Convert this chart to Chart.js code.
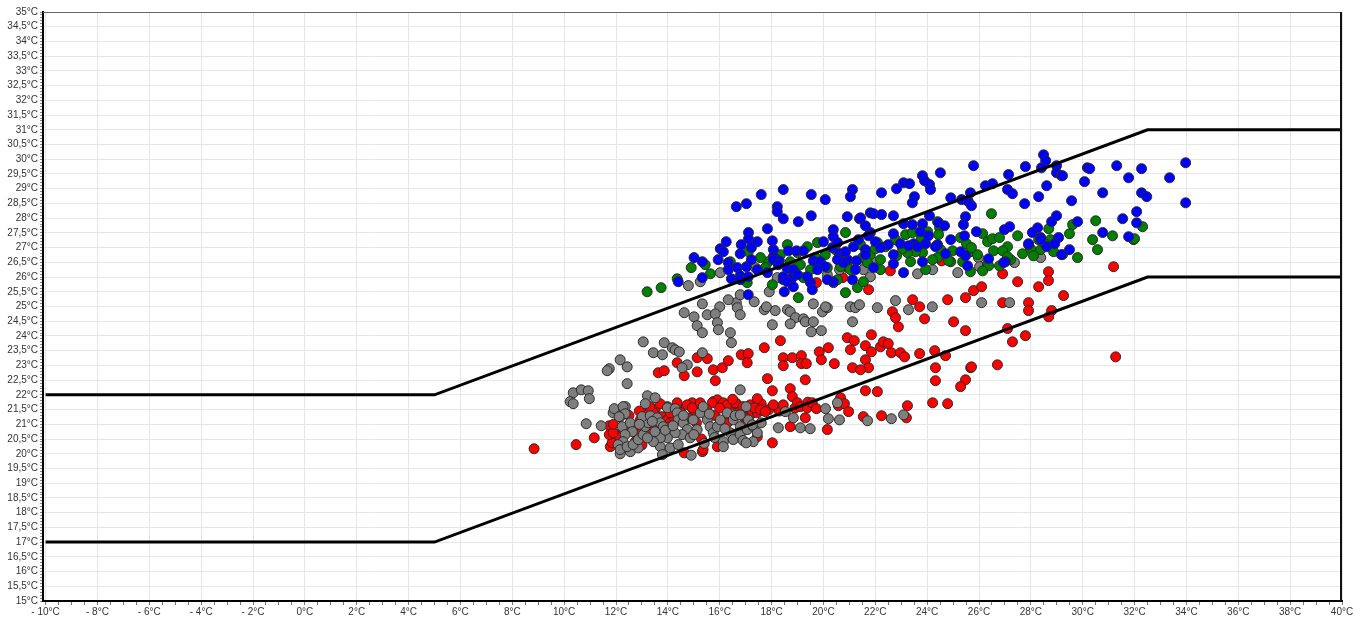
<!DOCTYPE html>
<html>
<head>
<meta charset="utf-8">
<script src="https://cdn.jsdelivr.net/npm/chart.js@4/dist/chart.umd.min.js"></script>
<style>
  body { margin: 0; background: #fff; }
  canvas { display: block; }
</style>
</head>
<body>
<canvas id="chart" width="1367" height="620"></canvas>
<script>
// comfort band limits (outdoor temp -> indoor temp)
const bandX = [-10, 5, 32.5, 40];
const upperY = [22, 22, 31, 31];
const lowerY = [17, 17, 26, 26];

// measured points [outdoor °C, indoor °C]
const redPoints = [
  [8.84,20.17],[10.46,20.31],[11.16,20.54],[11.74,20.95],[11.78,20.24],[11.85,20.37],[11.74,20.65],[12.05,20.65],
  [14.36,23.09],[15.13,23.26],[15.52,23.23],[13.63,22.75],[13.86,22.82],[14.63,22.65],[15.13,22.78],[15.75,22.85],
  [16.10,22.92],[16.33,23.16],[15.83,22.48],[16.83,23.36],[17.10,23.40],[17.06,23.09],
  [13.51,21.49],[13.98,21.60],[14.36,21.56],[14.94,21.73],[14.98,21.49],[15.75,21.77],[15.91,21.83],[16.14,21.73],
  [16.41,21.63],[16.64,21.70],[16.79,21.39],[17.18,21.32],[14.63,20.03],[15.33,20.07],[12.82,20.58],[12.74,20.41],
  [11.89,20.71],[12.94,21.15],[13.21,21.43],[13.44,21.39],[13.79,21.26],[13.98,21.15],[14.09,21.05],[14.21,21.26],
  [14.36,21.73],[14.75,21.66],[14.94,21.56],[15.25,21.73],[15.71,21.73],[16.29,21.66],[16.60,21.73],[16.72,21.39],
  [16.91,21.26],[17.26,21.43],[17.45,21.39],[17.18,21.66],[14.09,21.39],[13.44,20.98],[13.21,20.82],[12.74,20.92],
  [12.94,20.71],[15.36,20.14],[15.91,20.24],
  [12.50,21.30],[12.90,21.45],[13.30,21.60],[13.70,21.70],[14.50,21.40],[14.80,21.20],[15.10,21.05],[15.50,21.50],
  [15.80,21.30],[16.00,21.55],[16.50,21.85],[16.90,21.60],[17.60,21.70],[17.90,21.50],[18.30,21.45],[18.90,21.55],
  [19.40,21.75],[12.30,20.80],[11.90,21.00],[13.00,20.30],[14.00,20.90],[15.30,20.50],[16.30,21.05],[17.00,21.00],
  [18.34,23.84],[17.72,23.60],[18.45,23.26],[18.80,23.26],[19.15,23.33],[19.15,23.06],[19.34,23.06],[18.45,22.99],
  [19.84,23.46],[20.19,23.60],[19.92,23.19],[20.42,23.06],[19.30,22.51],[17.84,22.55],[18.03,22.14],[18.72,22.21],
  [18.80,21.94],[17.45,21.87],[20.92,23.94],[21.19,23.84],[21.85,24.04],[21.04,23.53],[21.62,23.67],[21.85,23.46],
  [21.62,23.19],[21.74,22.92],[21.12,22.92],[21.43,22.85],[22.20,23.63],[22.31,23.80],[22.50,23.74],[22.62,23.43],
  [22.97,23.43],[23.13,23.29],[23.71,23.40],[24.29,23.50],[24.71,23.33],[22.66,24.82],[22.78,24.62],[22.89,24.31],
  [23.71,24.99],[23.90,24.58],[23.44,25.23],[24.79,25.23],[25.02,24.48],[25.48,24.18],[24.32,22.92],[24.32,22.48],
  [25.48,22.51],[25.29,22.28],[25.68,22.92],[21.62,22.14],[22.08,22.11],[24.21,21.73],[24.79,21.70],
  [18.07,21.66],[18.45,21.66],[17.33,21.56],[17.57,21.49],[17.76,21.43],[19.00,21.73],[19.11,21.60],[19.38,21.56],
  [19.57,21.73],[19.73,21.53],[20.66,21.90],[20.58,21.63],[20.81,21.70],[20.97,21.43],[21.54,21.26],[22.24,21.29],
  [23.20,21.22],[23.24,21.63],[18.72,20.92],[19.30,21.22],[20.15,20.82],[17.45,20.58],[18.03,20.37],
  [31.19,26.35],[26.91,26.11],[28.68,26.18],[28.68,25.88],[27.49,25.84],[28.30,25.67],[25.79,25.54],[26.10,25.67],
  [25.48,25.30],[29.26,25.37],[26.91,25.13],[27.91,25.13],[27.91,24.86],[28.80,24.86],[28.69,24.65],[27.10,24.25],
  [27.79,24.01],[27.29,23.80],[25.71,22.95],[26.71,23.02],[31.27,23.29],
  [19.73,25.81],[20.74,25.98],[21.74,25.57],[24.56,26.55],[22.58,26.21]
];

const grayPoints = [
  [15.33,25.09],[16.00,24.99],[16.64,25.13],[16.68,24.96],[16.79,24.72],[14.63,24.79],[15.01,24.65],[15.52,24.72],
  [15.83,24.75],[15.91,24.45],[15.95,24.21],[15.13,24.35],[15.33,24.11],[16.41,24.11],[16.45,23.77],
  [13.05,23.80],[13.86,23.77],[13.44,23.43],[13.79,23.36],[14.17,23.60],[14.28,23.53],[14.44,23.46],[12.16,23.19],
  [12.43,22.95],[11.74,22.89],[11.66,22.82],[12.43,22.38],
  [10.35,22.07],[10.66,22.17],[10.93,22.14],[10.97,21.87],[10.23,21.77],[10.35,21.70],[13.21,21.97],[13.51,21.90],
  [13.13,21.70],[12.36,21.60],[11.97,21.49],[11.89,21.39],[16.79,22.17],[15.33,23.43],[14.75,23.02],[14.55,22.92],
  [10.85,21.02],[11.43,20.95],[12.16,21.26],[12.16,20.00],[12.55,20.07],[12.86,20.20],[13.71,20.24],[13.79,19.97],
  [11.93,21.53],[12.27,21.60],[12.35,21.36],[12.12,21.26],[12.24,20.92],[12.55,21.05],[12.63,20.75],[12.35,20.65],
  [12.27,20.41],[12.08,20.31],[12.16,20.14],[12.43,20.24],[12.66,20.31],[12.86,20.48],[13.05,20.65],[13.13,20.92],
  [13.24,21.05],[13.01,21.26],[13.32,21.29],[13.59,21.22],[13.71,21.05],[13.82,20.92],[13.98,21.56],[14.28,21.53],
  [14.36,21.39],[14.40,21.15],[14.59,21.05],[14.75,20.82],[14.55,20.65],[14.28,20.71],[13.98,20.54],[13.71,20.54],
  [13.44,20.41],[13.21,20.54],[14.09,20.20],[14.40,20.31],[14.86,20.54],[15.13,20.82],[14.98,21.15],[15.25,21.39],
  [15.36,21.60],[15.52,21.15],[15.63,20.92],[15.75,20.71],[15.91,20.92],[16.02,21.15],[16.29,21.39],[16.52,21.15],
  [16.79,20.92],[16.41,20.71],[16.14,20.41],[16.52,20.48],[16.79,20.65],[17.06,20.82],[17.29,20.92],[17.45,20.71],
  [17.29,20.41],[16.14,20.24],
  [13.90,20.80],[14.20,20.95],[14.60,21.30],[15.00,20.65],[15.40,20.35],[15.80,20.55],[16.20,20.85],[16.60,21.30],
  [17.10,21.15],[17.60,21.05],[13.50,20.75],[12.90,21.00],[14.90,19.95],[13.40,21.10],[15.60,21.35],[16.90,20.45],
  [17.72,24.89],[18.14,24.86],[18.61,24.89],[18.72,24.82],[18.92,24.62],[19.23,24.58],[19.30,24.48],[19.61,24.48],
  [18.72,24.41],[18.03,24.38],[19.53,24.14],[19.92,24.18],[19.96,24.82],[20.15,24.96],[21.12,24.48],[21.04,24.99],
  [21.23,24.96],[21.39,25.06],[22.08,24.96],[22.78,25.20],[23.28,24.89],[24.20,24.99],
  [17.02,21.60],[16.79,21.32],[17.26,20.98],[17.02,20.37],[18.26,20.88],[18.53,21.43],[18.84,21.22],[19.11,20.88],
  [19.49,20.85],[20.08,21.53],[20.54,21.73],[20.19,21.19],[20.62,21.15],[21.70,21.12],[22.62,21.19],[23.09,21.32],
  [26.10,25.13],[27.18,25.13],[25.98,26.66],[26.02,26.35],[27.37,26.49],[28.38,26.66],
  [14.79,25.71],[15.25,25.84],[16.02,26.15],[17.37,26.32],[18.22,25.98],[17.91,25.50],[16.79,25.40],[16.33,25.23],
  [17.33,25.16],[17.80,24.99],[20.15,26.08],[20.39,25.81],[20.93,26.32],[20.62,26.25],[21.54,26.52],[21.54,26.25],
  [21.81,26.01],[20.08,24.99],[19.61,25.09],
  [23.63,26.11],[24.21,26.25],[25.18,26.15],[21.93,26.52]
];

const greenPoints = [
  [13.20,25.50],[13.74,25.64],[14.36,25.94],[14.90,26.32],[15.44,26.42],[15.64,26.11],[17.10,26.86],[17.87,26.52],
  [17.76,26.32],[18.03,25.74],[17.06,25.81],[18.34,26.76],[18.61,27.10],[19.00,26.83],[19.38,27.03],[19.77,27.17],
  [20.07,26.76],[20.15,26.32],[20.66,26.35],[20.85,27.51],[20.93,26.52],[21.43,27.10],[21.51,26.66],[19.11,26.42],
  [19.23,25.98],[19.03,25.30],[19.50,26.25],[20.54,25.91],[20.85,25.47],[21.31,25.64],[21.81,26.76],[21.54,25.84],
  [18.72,26.52],[19.69,26.66],[20.46,26.93],[21.04,26.25],[22.20,26.59],[22.78,27.27],[23.36,26.52],[23.94,26.25],
  [24.91,26.52],[17.57,26.66],[16.41,26.52],[27.22,26.59],[28.38,26.93],
  [26.48,28.15],[29.61,27.78],[28.69,27.64],[28.76,27.27],[28.53,27.13],[28.88,26.86],[29.22,26.76],[29.80,26.66],
  [29.49,27.47],[27.68,26.79],[27.99,26.96],[28.10,26.72],[24.40,27.88],[24.48,27.67],[24.02,27.54],[24.44,27.44],
  [25.29,27.34],[25.52,27.13],[26.14,27.47],[26.33,27.20],[26.52,27.30],[26.79,27.34],[27.49,27.40],[27.10,27.03],
  [26.56,26.89],[26.91,26.89],[25.67,26.86],[24.98,26.89],[24.52,26.93],[24.40,26.66],[24.83,26.55],[25.37,26.52],
  [25.94,26.76],[26.33,26.45],[25.67,26.18],[24.21,26.59],[23.82,26.83],[23.55,26.86],[23.24,26.83],[23.05,26.96],
  [22.39,27.03],[22.08,27.17],[22.00,26.96],[21.70,26.49],[22.20,26.25],[22.82,26.72],[23.17,27.44],[23.43,27.51],
  [23.78,27.34],[25.71,27.00],[27.10,26.69],[28.30,27.27],[30.57,26.93],[30.38,27.27],[31.96,27.27],[26.37,26.38],
  [26.79,26.38],[26.14,26.21],[30.50,27.91],[32.31,27.71],[31.15,27.40],[32.00,27.30]
];

const bluePoints = [
  [17.60,28.80],[18.45,28.97],[19.53,28.80],[21.12,28.97],[21.04,28.73],[20.07,28.63],[16.64,28.39],[17.03,28.49],
  [18.22,28.39],[18.22,28.22],[18.45,27.98],[19.03,27.88],[19.53,28.08],[20.92,28.05],[21.39,27.98],[21.81,28.18],
  [17.84,27.64],[17.11,27.51],[17.11,27.30],[17.45,27.20],[18.03,27.23],[16.25,27.20],[16.83,27.10],[16.79,26.79],
  [17.22,27.00],[16.02,26.96],[16.14,26.86],[15.94,26.59],[15.01,26.66],[15.33,26.52],[15.33,25.98],[14.40,25.84],
  [16.33,26.49],[16.33,26.25],[16.68,26.32],[17.03,26.35],[16.45,25.94],[16.79,26.04],[17.10,25.40],[17.22,26.59],
  [18.07,26.93],[18.07,26.69],[18.30,26.55],[18.61,26.28],[18.65,26.89],[18.96,26.89],[19.23,26.89],[19.61,26.55],
  [20.00,27.20],[20.38,27.61],[20.38,27.37],[20.35,27.00],[20.62,26.79],[20.93,26.59],[21.27,26.55],[21.12,25.91],
  [21.43,28.01],[21.81,27.51],[17.84,26.15],[18.45,25.91],[18.49,25.50],[18.80,25.98],[18.84,26.25],[19.00,26.08],
  [19.50,25.81],[19.57,25.57],[19.88,26.52],[20.07,26.35],[21.23,26.25],[20.77,26.49],[20.38,25.84],
  [18.45,26.01],[18.61,25.84],[18.84,25.67],[19.38,26.01],[19.77,26.25],[20.15,25.91],[20.54,26.59],[20.85,26.86],
  [21.16,27.03],[21.35,27.27],[21.62,26.93],[20.54,27.17],[18.07,26.59],[18.26,26.42],[17.45,26.25],[16.79,25.91],
  [17.10,26.01],
  [28.49,30.15],[28.57,29.95],[27.79,29.75],[28.41,29.71],[28.99,29.78],[28.99,29.54],[29.18,29.44],[28.61,29.10],
  [28.30,28.73],[27.76,28.49],[29.57,28.59],[30.07,29.24],[30.18,29.71],[29.80,27.88],[28.80,27.88],[28.99,28.08],
  [28.26,27.67],[28.06,27.51],[28.38,27.34],[27.91,27.10],[29.07,27.34],[29.49,26.93],
  [25.79,29.78],[24.51,29.54],[23.82,29.44],[23.90,29.27],[24.09,29.14],[24.13,28.97],[23.09,29.20],[23.32,29.17],
  [22.82,29.00],[22.24,28.86],[23.51,28.73],[23.43,28.52],[24.91,28.69],[25.33,28.63],[25.59,28.56],[25.71,28.42],
  [25.67,28.86],[26.25,29.10],[26.52,29.17],[27.14,29.48],[27.10,28.97],[27.29,28.83],
  [21.93,28.15],[22.24,28.12],[22.70,28.08],[23.09,27.81],[23.43,27.78],[23.82,27.81],[24.09,28.08],[24.44,27.84],
  [24.67,27.74],[25.48,28.05],[25.40,27.78],[25.44,27.40],[25.90,27.54],[26.98,27.61],[27.18,27.71],[24.91,27.27],
  [24.40,27.10],[23.94,27.13],[23.48,27.13],[22.97,27.13],[22.70,27.47],[22.50,27.10],[22.00,27.20],[21.62,27.74],
  [21.73,27.40],[22.20,27.00],[22.70,26.76],[23.28,27.06],[23.63,27.03],[23.74,27.54],[24.05,27.40],[24.32,27.03],
  [24.71,26.79],[25.48,26.72],[26.37,26.62],[27.02,26.52],[23.82,26.52],[22.70,26.45],[23.09,26.15],[21.93,26.32],
  [21.62,26.76],
  [30.27,29.68],[31.31,29.78],[32.27,29.68],[33.97,29.88],[29.22,29.44],[31.77,29.37],[33.35,29.37],[30.77,28.86],
  [32.27,28.86],[32.47,28.73],[33.97,28.52],[32.08,28.22],[31.54,27.98],[32.08,27.84],[30.77,27.51],[31.77,27.37],
  [25.29,26.86],[25.56,26.38],[26.95,26.49],[27.91,27.13],[28.61,27.03],[28.92,27.13],[29.18,26.76],[28.38,27.27]
];

const toXY = arr => arr.map(p => ({ x: p[0], y: p[1] }));
const bandLine = ys => bandX.map((x, i) => ({ x: x, y: ys[i] }));

function pointSet(label, data, color, order) {
  return {
    label: label,
    data: toXY(data),
    backgroundColor: color,
    borderColor: '#2a2a2a',
    borderWidth: 1,
    pointRadius: 5,
    order: order
  };
}

function lineSet(label, ys) {
  return {
    label: label,
    data: bandLine(ys),
    showLine: true,
    borderColor: '#000',
    borderWidth: 3,
    pointRadius: 0,
    fill: false,
    order: 0
  };
}

const isHalf = v => Math.abs(v * 2 - Math.round(v * 2)) < 1e-6;
const isEven = v => Math.abs(v / 2 - Math.round(v / 2)) < 1e-6;

// right and top edge of the plot frame
const framePlugin = {
  id: 'frame',
  afterDraw(chart) {
    const { ctx, chartArea: a } = chart;
    ctx.save();
    ctx.strokeStyle = '#666';
    ctx.lineWidth = 1;
    ctx.beginPath();
    ctx.moveTo(a.left, a.top + 0.5);
    ctx.lineTo(a.right, a.top + 0.5);
    ctx.stroke();
    ctx.strokeStyle = '#111';
    ctx.lineWidth = 2;
    ctx.beginPath();
    ctx.moveTo(a.right - 1, a.top);
    ctx.lineTo(a.right - 1, a.bottom);
    ctx.stroke();
    ctx.restore();
  }
};

const ctx = document.getElementById('chart').getContext('2d');
new Chart(ctx, {
  type: 'scatter',
  data: {
    datasets: [
      lineSet('upper', upperY),
      lineSet('lower', lowerY),
      pointSet('blue', bluePoints, '#0000ff', 1),
      pointSet('green', greenPoints, '#008000', 2),
      pointSet('gray', grayPoints, '#7f7f7f', 3),
      pointSet('red', redPoints, '#ff0000', 4)
    ]
  },
  options: {
    responsive: false,
    animation: false,
    devicePixelRatio: 1,
    layout: { padding: { top: 12, right: 25, left: 0, bottom: 0 } },
    plugins: {
      legend: { display: false },
      tooltip: { enabled: false }
    },
    scales: {
      x: {
        type: 'linear',
        min: -10.1,
        max: 40,
        afterFit: s => { s.height = 19; },
        border: { color: '#000', width: 2 },
        grid: {
          color: c => isEven(c.tick.value) ? '#e6e6e6' : 'rgba(0,0,0,0)',
          lineWidth: 1,
          tickColor: '#777',
          tickLength: 4,
          drawTicks: true
        },
        ticks: {
          stepSize: 0.5,
          includeBounds: false,
          autoSkip: false,
          maxRotation: 0,
          padding: 1,
          color: '#333',
          font: { family: 'Liberation Sans', size: 10 },
          callback: v => {
            if (!isEven(v)) return '';
            return v < 0 ? '- ' + Math.abs(v) + '°C' : v + '°C';
          }
        }
      },
      y: {
        type: 'linear',
        min: 15,
        max: 35,
        afterFit: s => { s.width = 43; },
        border: { color: '#000', width: 2 },
        grid: {
          color: c => isHalf(c.tick.value) ? '#e6e6e6' : 'rgba(0,0,0,0)',
          lineWidth: 1,
          tickColor: '#888',
          tickLength: 3
        },
        ticks: {
          stepSize: 0.1,
          autoSkip: false,
          padding: 2,
          color: '#333',
          font: { family: 'Liberation Sans', size: 10 },
          callback: v => {
            if (!isHalf(v)) return '';
            return (Math.round(v * 10) / 10).toString().replace('.', ',') + '°C';
          }
        }
      }
    }
  },
  plugins: [framePlugin]
});
</script>
</body>
</html>
